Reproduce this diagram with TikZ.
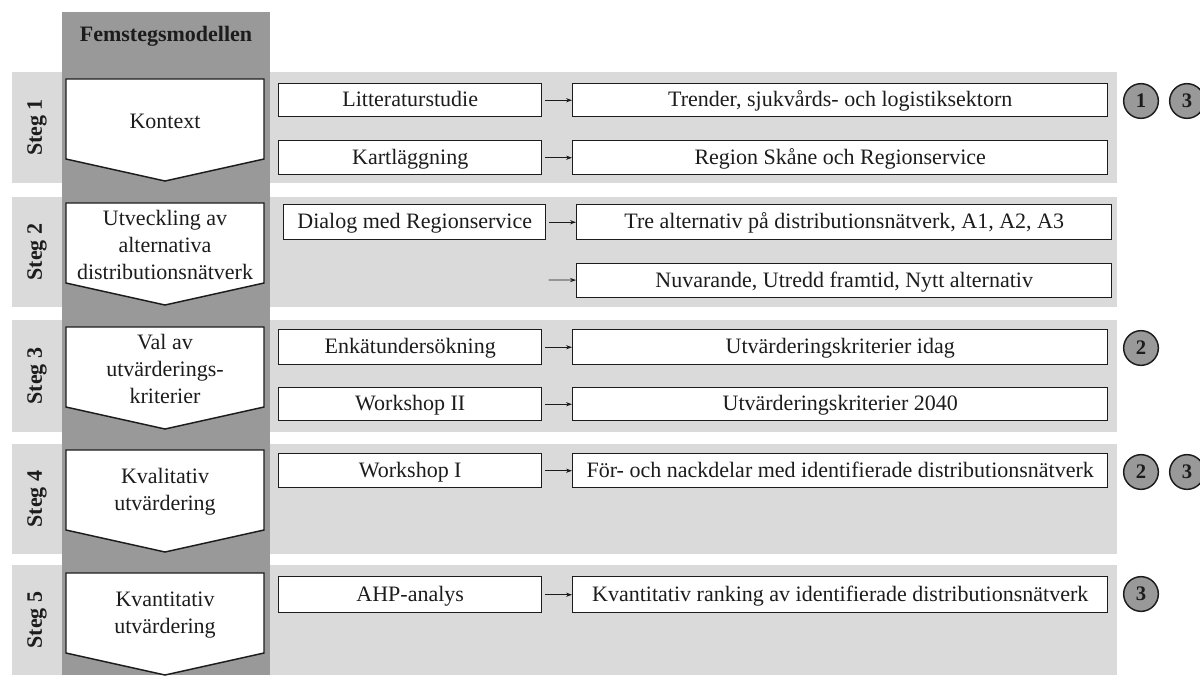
\documentclass[tikz,border=0pt]{standalone}
\usepackage{fontspec}
\setmainfont{Liberation Serif}
\usetikzlibrary{arrows.meta}
\definecolor{colgray}{RGB}{153,153,153}
\definecolor{bandgray}{RGB}{218,218,218}
\definecolor{ink}{RGB}{28,28,28}

% box with given corners (x1,y1) (x2,y2) in pixel units
\newcommand\pbox[6]{%
  \node[stepbox, minimum width={(#4-#2)*0.75pt}, minimum height={(#5-#3)*0.75pt},
        anchor=north west] (#1) at (#2,#3) {#6};}
% chevron of the five-step column, top edge at y = #1
\newcommand\stepchev[3]{%
  \draw[chev] (66,#1) -- (264,#1) -- (264,#1+80) -- (165,#1+102) -- (66,#1+80) -- cycle;
  \node[chevtext] (#2) at (165,#1+42) {#3};}

\begin{document}
\begin{tikzpicture}[x=0.75pt,y=-0.75pt,
  band/.style={fill=bandgray,draw=none},
  stepbox/.style={draw=ink,line width=1.1pt,fill=white,inner sep=0pt,text=ink,
    font=\fontsize{16.5}{20}\selectfont,text height=11.5pt,text depth=2pt},
  chev/.style={draw=ink,line width=1.1pt,fill=white,line join=miter},
  chevtext/.style={align=center,text=ink,font=\fontsize{16.5}{20.5}\selectfont},
  steglabel/.style={rotate=90,text=ink,font=\bfseries\fontsize{16.5}{18}\selectfont},
  refmark/.style={circle,draw=ink,line width=1.1pt,fill=colgray,minimum size=26pt,
    inner sep=0pt,text=ink,font=\bfseries\fontsize{15.5}{18}\selectfont},
  conn/.style={draw=ink,line width=0.6pt,shorten <=2pt,-{Stealth[length=4.5pt,width=3.2pt]}}]
\useasboundingbox (0,0) rectangle (1200,675);

% step bands
\fill[band] (12,72) rectangle (1117,183);
\fill[band] (12,197) rectangle (1117,307);
\fill[band] (12,320) rectangle (1117,432);
\fill[band] (12,444) rectangle (1117,554);
\fill[band] (12,565) rectangle (1117,675);

% model column
\fill[colgray] (62,12) rectangle (270,675);
\node[text=ink,font=\bfseries\fontsize{16.5}{20}\selectfont] (title) at (166,36) {Femstegsmodellen};

\stepchev{79}{kontext}{Kontext}
\stepchev{203}{utv}{Utveckling av\\alternativa\\distributionsnätverk}
\stepchev{327}{val}{Val av\\utvärderings-\\kriterier}
\stepchev{450}{kval}{Kvalitativ\\utvärdering}
\stepchev{573}{kvan}{Kvantitativ\\utvärdering}

\node[steglabel] (s1) at (37,127.5) {Steg 1};
\node[steglabel] (s2) at (37,252) {Steg 2};
\node[steglabel] (s3) at (37,376) {Steg 3};
\node[steglabel] (s4) at (37,499) {Steg 4};
\node[steglabel] (s5) at (37,620) {Steg 5};

% step 1
\pbox{lit}{278}{83}{541}{116}{Litteraturstudie}
\pbox{kart}{278}{140}{541}{174}{Kartläggning}
\pbox{trend}{572}{83}{1107}{116}{Trender, sjukvårds- och logistiksektorn}
\pbox{reg}{572}{140}{1107}{174}{Region Skåne och Regionservice}
\draw[conn] (lit) -- (trend);
\draw[conn] (kart) -- (reg);

% step 2
\pbox{dial}{283}{204}{545}{239}{Dialog med Regionservice}
\pbox{tre}{576}{204}{1111}{239}{Tre alternativ på distributionsnätverk, A1, A2, A3}
\pbox{nuv}{576}{263}{1111}{297}{Nuvarande, Utredd framtid, Nytt alternativ}
\coordinate (nuvin) at (546,280);
\draw[conn] (dial) -- (tre);
\draw[conn] (nuvin) -- (nuv);

% step 3
\pbox{enk}{278}{329}{541}{364}{Enkätundersökning}
\pbox{ws2}{278}{387}{541}{420}{Workshop II}
\pbox{idag}{572}{329}{1107}{364}{Utvärderingskriterier idag}
\pbox{k2040}{572}{387}{1107}{420}{Utvärderingskriterier 2040}
\draw[conn] (enk) -- (idag);
\draw[conn] (ws2) -- (k2040);

% step 4
\pbox{ws1}{278}{453}{541}{487}{Workshop I}
\pbox{fn}{572}{453}{1107}{487}{För- och nackdelar med identifierade distributionsnätverk}
\draw[conn] (ws1) -- (fn);

% step 5
\pbox{ahp}{278}{576}{541}{612}{AHP-analys}
\pbox{rank}{572}{576}{1107}{612}{Kvantitativ ranking av identifierade distributionsnätverk}
\draw[conn] (ahp) -- (rank);

% reference marks
\node[refmark] (m1a) at (1141,101) {1};
\node[refmark] (m1b) at (1187,101) {3};
\node[refmark] (m3a) at (1141,348) {2};
\node[refmark] (m4a) at (1141,472) {2};
\node[refmark] (m4b) at (1187,472) {3};
\node[refmark] (m5a) at (1141,594) {3};
\end{tikzpicture}
\end{document}
